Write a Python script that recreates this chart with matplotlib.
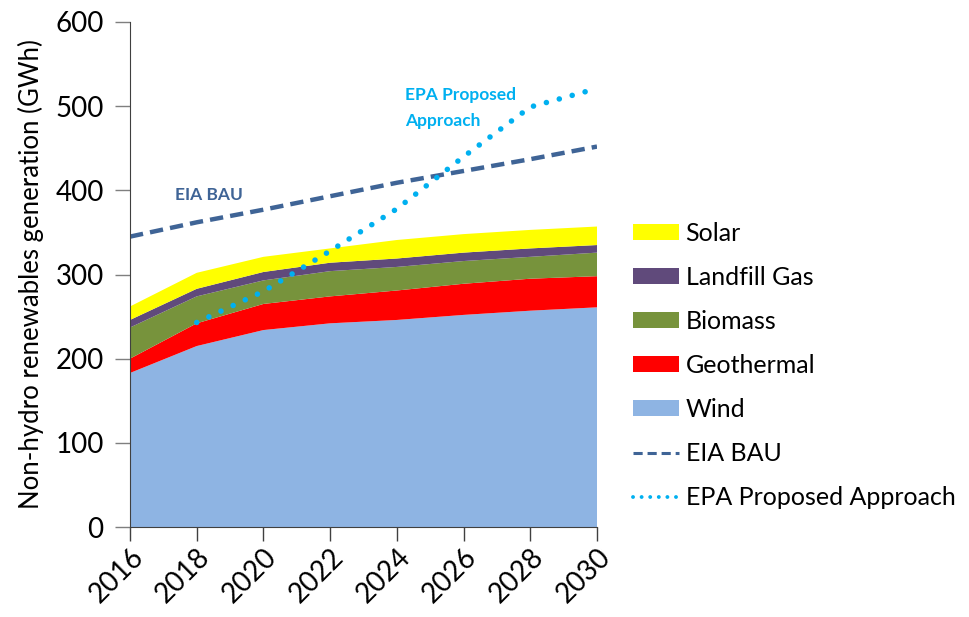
import matplotlib
matplotlib.use("Agg")
import matplotlib.pyplot as plt
import numpy as np
from matplotlib.lines import Line2D
from matplotlib.patches import Patch

plt.rcParams['font.family'] = ['Lato', 'DejaVu Sans']

years = [2016, 2018, 2020, 2022, 2024, 2026, 2028, 2030]
wind = [183, 215, 234, 242, 246, 252, 257, 261]
geothermal = [17, 27, 31, 32, 35, 37, 38, 37]
biomass = [37, 32, 28, 30, 28, 27, 26, 28]
landfill_gas = [9, 9, 10, 10, 10, 10, 10, 9]
solar = [16, 19, 18, 17, 22, 22, 22, 22]

eia_years = [2016, 2018, 2020, 2022, 2024, 2026, 2028, 2030]
eia_bau = [345, 362, 377, 393, 409, 423, 437, 452]
epa_years = [2018, 2020, 2022, 2024, 2026, 2028, 2030]
epa_proposed = [243, 280, 328, 378, 440, 499, 521]

y_ticks = [0, 100, 200, 300, 400, 500, 600]
x_ticks = [2016, 2018, 2020, 2022, 2024, 2026, 2028, 2030]

c_wind = '#8EB4E3'
c_geo = '#FF0000'
c_bio = '#77933C'
c_land = '#604A7B'
c_solar = '#FFFF00'
c_eia = '#3F6496'
c_epa = '#00B0F0'

fig = plt.figure(figsize=(9.7, 6.17), dpi=100)
ax = fig.add_axes([130/970, 1-527/617, (597-130)/970, (527-22)/617])

ax.stackplot(years, wind, geothermal, biomass, landfill_gas, solar,
             colors=[c_wind, c_geo, c_bio, c_land, c_solar], linewidth=0)
ax.plot(eia_years, eia_bau, color=c_eia, lw=3.2, linestyle=(0, (3.0, 1.6)))
ax.plot(epa_years, epa_proposed, color=c_epa, lw=4.0, linestyle=(0, (0.01, 2.4)),
        dash_capstyle='round', solid_capstyle='round')

ax.set_xlim(2016, 2030)
ax.set_ylim(0, 600)
ax.set_yticks(y_ticks)
ax.set_xticks(x_ticks)
ax.set_xticklabels([str(x) for x in x_ticks], rotation=45, ha='right',
                   va='top', rotation_mode='anchor')
ax.tick_params(axis='y', labelsize=20, length=11, width=1, color='#7f7f7f', pad=8)
ax.tick_params(axis='x', labelsize=20, length=10, width=1, color='#404040', pad=2)
for s in ['top', 'right']:
    ax.spines[s].set_visible(False)
ax.spines['left'].set_color('#404040')
ax.spines['bottom'].set_color('#404040')
ax.set_ylabel('Non-hydro renewables generation (GWh)', fontsize=18.5, labelpad=8)

ax.text(2017.35, 395, 'EIA BAU', color=c_eia, fontsize=12.5, fontweight='bold',
        va='center', ha='left')
ax.text(2024.25, 498, 'EPA Proposed\nApproach', color=c_epa, fontsize=12.5,
        fontweight='bold', va='center', ha='left', linespacing=1.8)

handles = [
    Patch(facecolor=c_solar, label='Solar'),
    Patch(facecolor=c_land, label='Landfill Gas'),
    Patch(facecolor=c_bio, label='Biomass'),
    Patch(facecolor=c_geo, label='Geothermal'),
    Patch(facecolor=c_wind, label='Wind'),
    Line2D([], [], color=c_eia, lw=2.2, linestyle=(0, (3.0, 1.6)), label='EIA BAU'),
    Line2D([], [], color=c_epa, lw=2.8, linestyle=(0, (0.01, 2.2)),
           dash_capstyle='round', label='EPA Proposed Approach'),
]
fig.legend(handles=handles, loc='upper left', bbox_to_anchor=(623/970, 1-212/617),
           frameon=False, fontsize=18, handlelength=1.85, handleheight=0.6,
           handletextpad=0.25, labelspacing=0.84, borderaxespad=0)

fig.savefig('out.png', dpi=100)
